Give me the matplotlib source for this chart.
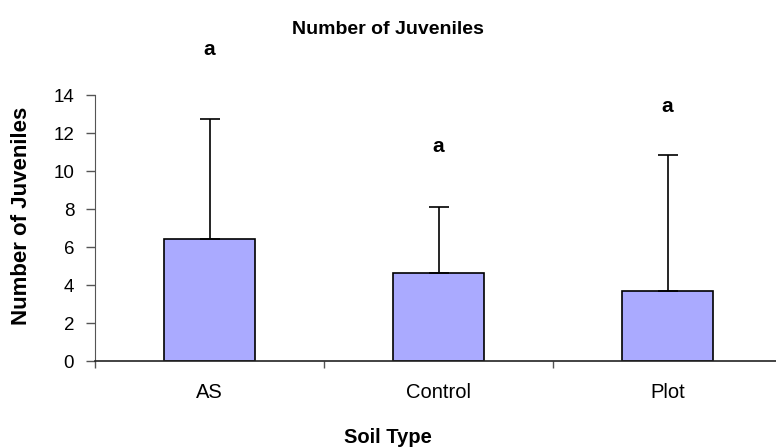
import matplotlib
matplotlib.use("Agg")
import matplotlib.pyplot as plt
import numpy as np

# Mean number of juveniles per soil type, with upper standard deviation
soil_types = ["AS", "Control", "Plot"]
mean_juveniles = [6.4, 4.65, 3.7]
std_juveniles = [6.33, 3.47, 7.14]
group_letters = ["a", "a", "a"]
letter_heights = [16.4, 11.3, 13.4]

plt.rcParams["font.family"] = ["Liberation Sans", "DejaVu Sans"]

W, H = 776, 448
fig = plt.figure(figsize=(W / 100, H / 100), dpi=100)
ax = fig.add_axes([95 / W, 1 - 361 / H, 687 / W, 266 / H])

x = np.arange(len(soil_types))
ax.bar(x, mean_juveniles, width=0.4, color="#AAAAFF", edgecolor="black",
       linewidth=1.2, zorder=2)
ax.errorbar(x, mean_juveniles, yerr=[np.zeros(len(x)), std_juveniles],
            fmt="none", ecolor="black", elinewidth=1.2, capsize=7.5,
            capthick=1.2, zorder=3)

for xi, letter, h in zip(x, group_letters, letter_heights):
    ax.text(xi, h, letter, ha="center", va="center", fontsize=15,
            fontweight="bold", clip_on=False)

ax.set_xlim(-0.5, len(soil_types) - 0.5)
ax.set_ylim(0, 14)
ax.set_yticks(np.arange(0, 15, 2))
ax.set_xticks(x)
ax.set_xticklabels(soil_types, fontsize=14.5)
ax.set_xticks(np.arange(-0.5, len(soil_types), 1), minor=True)
ax.tick_params(axis="x", which="major", length=0, pad=16)
ax.tick_params(axis="x", which="minor", length=5, width=1, direction="out",
               color="#555555")
ax.tick_params(axis="y", length=6.5, width=1, direction="out", labelsize=13.5,
               color="#555555", pad=8.5)

for side in ("top", "right"):
    ax.spines[side].set_visible(False)
ax.spines["left"].set_color("#555555")
ax.spines["bottom"].set_color("#222222")
ax.spines["bottom"].set_linewidth(1.2)

ax.set_xlabel("Soil Type", fontsize=14.5, fontweight="bold")
ax.set_ylabel("Number of Juveniles", fontsize=16, fontweight="bold")
# place axis titles at fixed figure positions
ax.xaxis.set_label_coords(0.5, 1 - 437 / H, transform=fig.transFigure)
ax.yaxis.set_label_coords(22 / W, 0.5 * ((1 - 96 / H) + (1 - 335 / H)),
                          transform=fig.transFigure)
ax.xaxis.label.set_va("center")
ax.yaxis.label.set_va("center")
fig.text(0.5, 1 - 30 / H, "Number of Juveniles", ha="center", va="center",
         fontsize=14, fontweight="bold")

fig.savefig("out.png", dpi=100)
